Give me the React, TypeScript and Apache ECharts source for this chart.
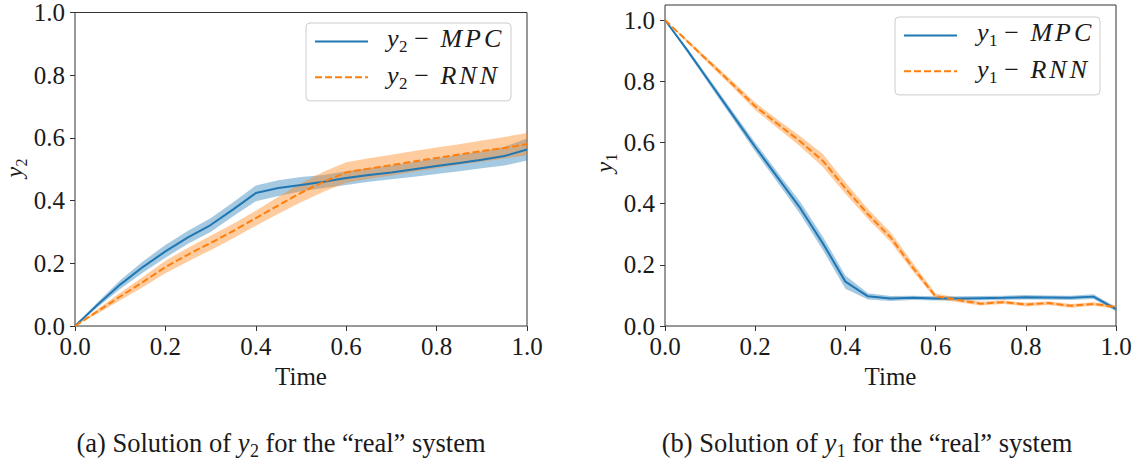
import React, { useEffect, useRef } from "react";
import * as echarts from "echarts";

const time = [0, 0.05, 0.1, 0.15, 0.2, 0.25, 0.3, 0.35, 0.4, 0.45, 0.5, 0.55, 0.6, 0.65, 0.7, 0.75, 0.8, 0.85, 0.9, 0.95, 1.0];

// y2 (left panel)
const y2Mpc = [0, 0.068, 0.132, 0.188, 0.238, 0.283, 0.322, 0.372, 0.424, 0.44, 0.45, 0.46, 0.472, 0.482, 0.49, 0.5, 0.51, 0.52, 0.53, 0.542, 0.563];
const y2MpcLo = [0, 0.06, 0.118, 0.17, 0.218, 0.262, 0.3, 0.35, 0.398, 0.415, 0.43, 0.44, 0.45, 0.46, 0.468, 0.476, 0.485, 0.494, 0.503, 0.512, 0.528];
const y2MpcHi = [0, 0.076, 0.146, 0.206, 0.258, 0.304, 0.344, 0.395, 0.448, 0.465, 0.475, 0.482, 0.494, 0.504, 0.512, 0.523, 0.535, 0.546, 0.557, 0.572, 0.598];
const y2Rnn = [0, 0.047, 0.094, 0.14, 0.188, 0.228, 0.265, 0.303, 0.344, 0.385, 0.425, 0.46, 0.49, 0.502, 0.513, 0.525, 0.536, 0.547, 0.558, 0.568, 0.58];
const y2RnnLo = [0, 0.04, 0.082, 0.124, 0.168, 0.206, 0.242, 0.28, 0.32, 0.358, 0.395, 0.428, 0.457, 0.47, 0.48, 0.492, 0.503, 0.514, 0.524, 0.534, 0.545];
const y2RnnHi = [0, 0.054, 0.106, 0.156, 0.208, 0.25, 0.288, 0.326, 0.368, 0.412, 0.455, 0.492, 0.522, 0.535, 0.546, 0.558, 0.569, 0.58, 0.592, 0.603, 0.616];

// y1 (right panel)
const y1Mpc = [1.0, 0.9, 0.795, 0.69, 0.585, 0.485, 0.385, 0.27, 0.145, 0.097, 0.09, 0.092, 0.09, 0.09, 0.091, 0.092, 0.094, 0.093, 0.092, 0.096, 0.055];
const y1MpcLo = [1.0, 0.893, 0.785, 0.678, 0.57, 0.468, 0.365, 0.248, 0.122, 0.087, 0.082, 0.085, 0.083, 0.083, 0.084, 0.085, 0.087, 0.086, 0.085, 0.088, 0.048];
const y1MpcHi = [1.0, 0.907, 0.805, 0.702, 0.6, 0.502, 0.405, 0.292, 0.165, 0.107, 0.098, 0.099, 0.097, 0.097, 0.098, 0.099, 0.101, 0.1, 0.099, 0.104, 0.062];
const y1Rnn = [1.0, 0.93, 0.86, 0.79, 0.718, 0.66, 0.603, 0.54, 0.45, 0.365, 0.29, 0.19, 0.097, 0.085, 0.073, 0.078, 0.07, 0.075, 0.066, 0.072, 0.062];
const y1RnnLo = [1.0, 0.925, 0.852, 0.78, 0.706, 0.646, 0.587, 0.52, 0.432, 0.35, 0.275, 0.178, 0.088, 0.078, 0.067, 0.072, 0.064, 0.069, 0.06, 0.066, 0.056];
const y1RnnHi = [1.0, 0.935, 0.868, 0.8, 0.73, 0.674, 0.62, 0.562, 0.47, 0.382, 0.306, 0.205, 0.106, 0.092, 0.079, 0.084, 0.076, 0.081, 0.072, 0.078, 0.068];

const yTicks = [0, 0.2, 0.4, 0.6, 0.8, 1.0];

const BLUE = "#1f77b4";
const ORANGE = "#ff7f0e";
const FONT = "Liberation Serif";
const TXT = "#1a1a1a";

type Seg = { t: string; size: number; italic?: boolean; dy?: number; gap?: number };

let measureCtx: CanvasRenderingContext2D | null = null;
function textWidth(t: string, size: number, italic?: boolean) {
  if (!measureCtx) measureCtx = document.createElement("canvas").getContext("2d");
  if (!measureCtx) return t.length * size * 0.5;
  measureCtx.font = (italic ? "italic " : "") + size + "px " + FONT;
  return measureCtx.measureText(t).width;
}

function segElements(segs: Seg[], x: number, y: number, align: "left" | "center") {
  const widths = segs.map((s) => textWidth(s.t, s.size, s.italic));
  const total = widths.reduce((a, w, i) => a + w + (i < segs.length - 1 ? segs[i].gap || 0 : 0), 0);
  let cx = align === "center" ? x - total / 2 : x;
  return segs.map((s, i) => {
    const el = {
      type: "text",
      x: cx,
      y: y + (s.dy || 0),
      z: 100,
      silent: true,
      style: {
        text: s.t,
        fontFamily: FONT,
        fontSize: s.size,
        fontStyle: s.italic ? "italic" : "normal",
        fill: TXT,
        align: "left",
        verticalAlign: "middle",
      },
    };
    cx += widths[i] + (s.gap || 0);
    return el;
  });
}

function mathLabel(sub: string, letters: string[], size: number): Seg[] {
  const segs: Seg[] = [
    { t: "y", size, italic: true, gap: 0.5 },
    { t: sub, size: Math.round(size * 0.67), dy: size * 0.31, gap: size * 0.26 },
    { t: "−", size, gap: size * 0.44 },
  ];
  letters.forEach((l, i) => segs.push({ t: l, size, italic: true, gap: i < letters.length - 1 ? 3 : 0 }));
  return segs;
}

function symLabel(sub: string, size: number): Seg[] {
  return [
    { t: "y", size, italic: true, gap: 0.5 },
    { t: sub, size: Math.round(size * 0.67), dy: size * 0.31 },
  ];
}

function captionSegs(letter: string, sub: string, size: number): Seg[] {
  const sp = textWidth(" ", size);
  return [
    { t: "(" + letter + ") Solution of", size, gap: sp },
    { t: "y", size, italic: true, gap: 0.5 },
    { t: sub, size: Math.round(size * 0.67), dy: size * 0.31, gap: sp },
    { t: "for the “real” system", size },
  ];
}

function pairs(v: number[]) {
  return time.map((t, i) => [t, v[i]]);
}

function band(name: string, idx: number, lo: number[], hi: number[], color: string) {
  return {
    type: "custom",
    name,
    xAxisIndex: idx,
    yAxisIndex: idx,
    silent: true,
    z: 1,
    data: [[0, 0]],
    renderItem: (_p: any, api: any) => {
      const pts: number[][] = [];
      for (let i = 0; i < time.length; i++) pts.push(api.coord([time[i], hi[i]]));
      for (let i = time.length - 1; i >= 0; i--) pts.push(api.coord([time[i], lo[i]]));
      return { type: "polygon", shape: { points: pts }, style: { fill: color } };
    },
  };
}

function line(name: string, idx: number, v: number[], color: string, dashed: boolean) {
  return {
    type: "line",
    name,
    xAxisIndex: idx,
    yAxisIndex: idx,
    data: pairs(v),
    symbol: "none",
    showSymbol: false,
    z: 3,
    lineStyle: { color, width: 2, type: dashed ? [7, 3] : "solid" },
    itemStyle: { color },
  };
}

function xAxis(idx: number) {
  return {
    type: "value",
    gridIndex: idx,
    min: 0,
    max: 1,
    interval: 0.2,
    name: "Time",
    nameLocation: "middle",
    nameGap: 33,
    nameTextStyle: { fontFamily: FONT, fontSize: 25, color: TXT },
    axisLine: { show: false },
    axisTick: { show: true, length: 5, lineStyle: { color: "#333", width: 1 } },
    axisLabel: {
      margin: 8,
      fontFamily: FONT,
      fontSize: 25,
      color: TXT,
      formatter: (v: number) => v.toFixed(1),
    },
    splitLine: { show: false },
  };
}

function yAxis(idx: number, max: number) {
  return {
    type: "value",
    gridIndex: idx,
    min: 0,
    max,
    interval: 0.2,
    axisLine: { show: false },
    axisTick: { show: true, length: 5, lineStyle: { color: "#333", width: 1 }, customValues: yTicks },
    axisLabel: {
      margin: 10,
      fontFamily: FONT,
      fontSize: 25,
      color: TXT,
      customValues: yTicks,
      formatter: (v: number) => v.toFixed(1),
    },
    splitLine: { show: false },
  };
}

function legend(names: string[], left: number, top: number) {
  return {
    data: names,
    orient: "vertical",
    left,
    top,
    itemWidth: 53,
    itemHeight: 14,
    itemGap: 23.3,
    padding: [11.4, 142, 18, 8],
    backgroundColor: "rgba(255,255,255,0.8)",
    borderColor: "#cccccc",
    borderWidth: 1,
    borderRadius: 4,
    selectedMode: false,
    itemStyle: { opacity: 0, borderWidth: 0 },
    lineStyle: { width: 2 },
    formatter: () => "",
    textStyle: { fontFamily: FONT, fontSize: 26, color: TXT },
  };
}

export default function App() {
  const ref = useRef<HTMLDivElement>(null);
  useEffect(() => {
    if (!ref.current) return;
    const chart = echarts.init(ref.current, null, { renderer: "svg" });
    const rightMax = 321 / 306;
    const graphics: any[] = [
      ...segElements(mathLabel("2", ["M", "P", "C"], 26), 387, 38.5, "left"),
      ...segElements(mathLabel("2", ["R", "N", "N"], 26), 387, 75.8, "left"),
      ...segElements(mathLabel("1", ["M", "P", "C"], 26), 977, 32.5, "left"),
      ...segElements(mathLabel("1", ["R", "N", "N"], 26), 977, 69.8, "left"),
      { type: "group", x: 14, y: 168, z: 100, rotation: Math.PI / 2, children: segElements(symLabel("2", 24), 0, 0, "center") },
      { type: "group", x: 604, y: 163, z: 100, rotation: Math.PI / 2, children: segElements(symLabel("1", 24), 0, 0, "center") },
      ...segElements(captionSegs("a", "2", 26.5), 281, 443, "center"),
      ...segElements(captionSegs("b", "1", 26.5), 867, 443, "center"),
    ];
    chart.setOption({
      animation: false,
      backgroundColor: "#ffffff",
      grid: [
        { left: 75, top: 10, width: 452, height: 316, show: true, borderColor: "#333", borderWidth: 1, backgroundColor: "transparent" },
        { left: 665, top: 5, width: 451, height: 321, show: true, borderColor: "#333", borderWidth: 1, backgroundColor: "transparent" },
      ],
      xAxis: [xAxis(0), xAxis(1)],
      yAxis: [yAxis(0, 1), yAxis(1, rightMax)],
      legend: [legend(["y2 − MPC", "y2 − RNN"], 306, 23), legend(["y1 − MPC", "y1 − RNN"], 895, 17)],
      series: [
        band("band y2 MPC", 0, y2MpcLo, y2MpcHi, "rgba(31,119,180,0.4)"),
        band("band y2 RNN", 0, y2RnnLo, y2RnnHi, "rgba(255,127,14,0.4)"),
        line("y2 − MPC", 0, y2Mpc, BLUE, false),
        line("y2 − RNN", 0, y2Rnn, ORANGE, true),
        band("band y1 MPC", 1, y1MpcLo, y1MpcHi, "rgba(31,119,180,0.4)"),
        band("band y1 RNN", 1, y1RnnLo, y1RnnHi, "rgba(255,127,14,0.4)"),
        line("y1 − MPC", 1, y1Mpc, BLUE, false),
        line("y1 − RNN", 1, y1Rnn, ORANGE, true),
      ],
      graphic: graphics,
    });
    return () => chart.dispose();
  }, []);
  return <div ref={ref} style={{ position: "fixed", left: 0, top: 0, width: 1135, height: 464 }} />;
}
